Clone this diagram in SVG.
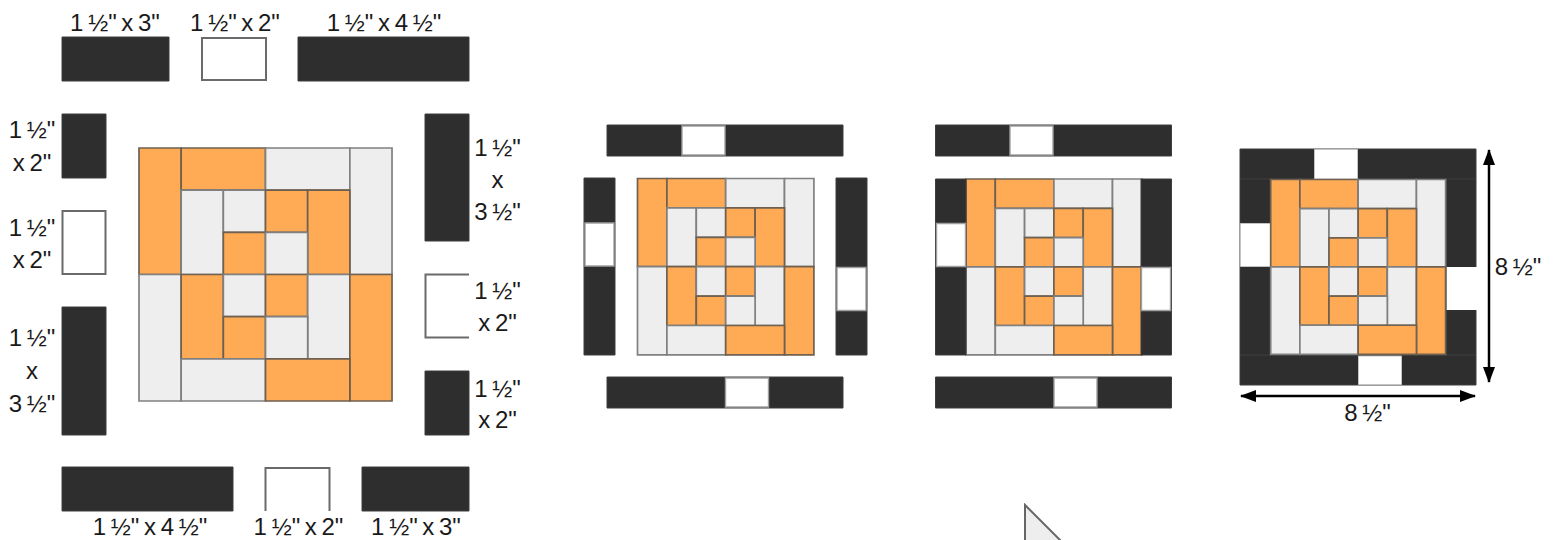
<svg xmlns="http://www.w3.org/2000/svg" width="1556" height="540" viewBox="0 0 1556 540">
<style>
text{font-family:"Liberation Sans",Arial,sans-serif;font-size:24px;fill:#1a1a1a;text-anchor:middle;word-spacing:-2px}
rect,polygon{vector-effect:non-scaling-stroke}
.o{fill:#ffab57;stroke:#6f6150;stroke-width:1.7}
.g{fill:#eeeeee;stroke:#808080;stroke-width:1.7}
.d{fill:#2f2f2f;stroke:#3c3c3c;stroke-width:1}
.w{fill:#ffffff;stroke:#6a6a6a;stroke-width:2}
.v{fill:#ffffff;stroke:#a0a0a0;stroke-width:1.4}
.f{fill:#ffffff;stroke:#c4c4c4;stroke-width:1}
.n{fill:#ffffff;stroke:none}
.a{stroke:#000;stroke-width:2.5;fill:none}
</style>
<defs>
<filter id="soft" x="-5%" y="-5%" width="110%" height="110%"><feGaussianBlur stdDeviation="0.65"/></filter>
<marker id="head" viewBox="0 0 16 12" refX="15" refY="6" markerWidth="16" markerHeight="12" markerUnits="userSpaceOnUse" orient="auto-start-reverse"><polygon points="0,0 16,6 0,12" fill="#000"/></marker>
<g id="block">
<rect class="o" x="0" y="0" width="1" height="3"/><rect class="o" x="1" y="0" width="2" height="1"/><rect class="g" x="3" y="0" width="2" height="1"/><rect class="g" x="5" y="0" width="1" height="3"/>
<rect class="g" x="1" y="1" width="1" height="2"/><rect class="g" x="2" y="1" width="1" height="1"/><rect class="o" x="3" y="1" width="1" height="1"/><rect class="o" x="4" y="1" width="1" height="2"/>
<rect class="o" x="2" y="2" width="1" height="1"/><rect class="g" x="3" y="2" width="1" height="1"/>
<rect class="g" x="0" y="3" width="1" height="3"/><rect class="o" x="1" y="3" width="1" height="2"/><rect class="g" x="2" y="3" width="1" height="1"/><rect class="o" x="3" y="3" width="1" height="1"/><rect class="g" x="4" y="3" width="1" height="2"/><rect class="o" x="5" y="3" width="1" height="3"/>
<rect class="o" x="2" y="4" width="1" height="1"/><rect class="g" x="3" y="4" width="1" height="1"/>
<rect class="g" x="1" y="5" width="2" height="1"/><rect class="o" x="3" y="5" width="2" height="1"/>
</g>
</defs>

<g id="cutting-layout" filter="url(#soft)">
<use href="#block" transform="translate(139 148) scale(42.17)"/>
<rect class="d" x="62" y="37" width="107" height="44"/><rect class="w" x="202" y="38" width="64" height="42"/><rect class="d" x="298" y="37" width="171" height="44"/>
<rect class="d" x="62" y="114" width="44" height="64"/><rect class="w" x="62.500" y="211" width="43" height="63"/><rect class="d" x="62" y="307" width="44" height="128"/>
<rect class="d" x="425" y="114" width="44" height="127"/><rect class="w" x="425.500" y="274.500" width="50" height="63"/><rect class="n" x="469" y="270" width="10" height="72"/><rect class="d" x="425" y="371" width="44" height="64"/>
<rect class="d" x="62" y="467" width="171" height="44"/><rect class="w" x="265.500" y="468" width="64" height="50"/><rect class="n" x="260" y="511" width="75" height="10"/><rect class="d" x="362" y="467" width="107" height="44"/>
</g>

<g id="assembly-step-1" filter="url(#soft)">
<use href="#block" transform="translate(637.500 178.500) scale(29.4)"/>
<rect class="d" x="607" y="125" width="236" height="31"/><rect class="v" x="682" y="126" width="43" height="29"/>
<rect class="d" x="607" y="377" width="236" height="31"/><rect class="v" x="725.500" y="378" width="43" height="29"/>
<rect class="d" x="584" y="178" width="31" height="177"/><rect class="v" x="585" y="223" width="29" height="43"/>
<rect class="d" x="836" y="178" width="31" height="177"/><rect class="v" x="837" y="267.500" width="29" height="43"/>
</g>

<g id="assembly-step-2" filter="url(#soft)">
<use href="#block" transform="translate(966 179) scale(29.3)"/>
<rect class="d" x="935.500" y="125" width="236" height="31"/><rect class="v" x="1010" y="126" width="43" height="29"/>
<rect class="d" x="935.500" y="377" width="236" height="31"/><rect class="v" x="1054" y="378" width="43" height="29"/>
<rect class="d" x="935.500" y="179" width="30.500" height="176"/><rect class="v" x="936.500" y="223.500" width="29" height="43"/>
<rect class="d" x="1141" y="179" width="30.500" height="176"/><rect class="v" x="1141.500" y="267.500" width="29" height="43"/>
</g>

<g id="assembled-block" filter="url(#soft)">
<rect class="d" x="1240" y="149" width="236" height="30"/><rect class="f" x="1314.500" y="149.500" width="43" height="29.500"/>
<rect class="d" x="1240" y="355" width="236" height="30"/><rect class="f" x="1358.500" y="356" width="43" height="28.500"/>
<rect class="d" x="1240" y="179" width="31" height="176"/><rect class="f" x="1240.500" y="223.500" width="30" height="43"/>
<rect class="d" x="1445" y="179" width="31" height="176"/><rect class="n" x="1446.500" y="267" width="31" height="43"/>
<use href="#block" transform="translate(1270.700 179.500) scale(29.15)"/>
</g>

<g id="corner-triangle" filter="url(#soft)">
<polygon points="1025,505 1025,545 1065,545" fill="#eeeeee" stroke="#666666" stroke-width="2"/>
</g>

<g id="connectors">
<line class="a" x1="1489" y1="150" x2="1489" y2="382" marker-start="url(#head)" marker-end="url(#head)"/>
<line class="a" x1="1241" y1="396" x2="1475" y2="396" marker-start="url(#head)" marker-end="url(#head)"/>
</g>

<g id="labels">
<text x="115" y="31">1 ½" x 3"</text>
<text x="235" y="31">1 ½" x 2"</text>
<text x="384" y="31">1 ½" x 4 ½"</text>
<text x="32" y="138">1 ½"</text><text x="32" y="171">x 2"</text>
<text x="32" y="236">1 ½"</text><text x="32" y="268">x 2"</text>
<text x="32" y="346">1 ½"</text><text x="32" y="379">x</text><text x="32" y="412">3 ½"</text>
<text x="497.500" y="156">1 ½"</text><text x="497.500" y="188">x</text><text x="497.500" y="220">3 ½"</text>
<text x="497.500" y="299">1 ½"</text><text x="497.500" y="331">x 2"</text>
<text x="497.500" y="397">1 ½"</text><text x="497.500" y="428">x 2"</text>
<text x="150" y="535">1 ½" x 4 ½"</text>
<text x="298.500" y="535">1 ½" x 2"</text>
<text x="416" y="535">1 ½" x 3"</text>
<text x="1518" y="275">8 ½"</text>
<text x="1367.500" y="421">8 ½"</text>
</g>
</svg>
